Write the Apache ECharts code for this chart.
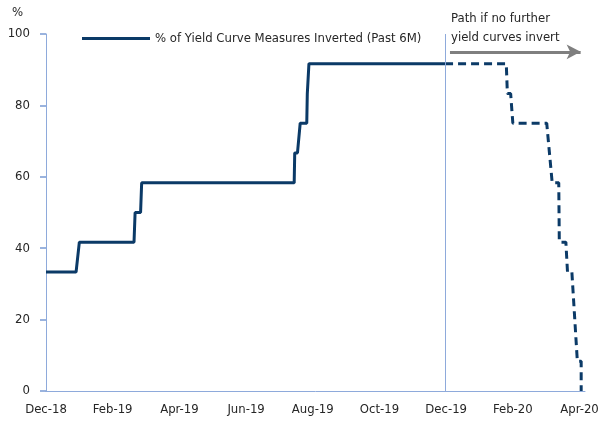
<!DOCTYPE html>
<html>
<head>
<meta charset="utf-8">
<script src="https://cdn.jsdelivr.net/npm/echarts@6/dist/echarts.min.js"></script>
<style>
  html, body { margin: 0; padding: 0; background: #fff; }
  #chart { width: 599px; height: 421px; }
</style>
</head>
<body>
<div id="chart"></div>
<script>
// x values are days since 1 Dec 2018
const xLabels = ["Dec-18", "Feb-19", "Apr-19", "Jun-19", "Aug-19", "Oct-19", "Dec-19", "Feb-20", "Apr-20"];
const yTicks = [0, 20, 40, 60, 80, 100];

const actualDays = [0, 27.5, 30.5, 80.5, 81.5, 86.5, 87.5, 227, 227.5, 230, 232.5, 238.5, 239, 240.5, 365];
const actualValues = [33.3, 33.3, 41.7, 41.7, 50, 50, 58.3, 58.3, 66.7, 66.7, 75, 75, 83.3, 91.7, 91.7];

const pathDays = [365, 421, 422, 425, 427, 458, 463, 469, 469.5, 475.5, 477, 481, 486, 489.5, 489.5];
const pathValues = [91.7, 91.7, 83.3, 83.3, 75, 75, 58.3, 58.3, 41.7, 41.7, 33.3, 33.3, 8.3, 8.3, 0];

const dec19 = 365;
const arrowFrom = 369.5, arrowTo = 489, arrowLevel = 95;

const font = '"DejaVu Sans Condensed", sans-serif';
const navy = "#0b3a67";
const axisBlue = "#8eaadb";
const textColor = "#262626";
const step = 61;

const chart = echarts.init(document.getElementById("chart"));

const option = {
  animation: false,
  textStyle: { fontFamily: font },
  grid: { left: 46, right: 14, top: 34, bottom: 30, outerBoundsMode: "none" },
  legend: {
    left: 77,
    top: 27,
    icon: "rect",
    itemWidth: 68,
    itemHeight: 3,
    data: ["% of Yield Curve Measures Inverted (Past 6M)"],
    textStyle: { fontFamily: font, fontSize: 13, color: textColor },
  },
  xAxis: {
    type: "value",
    min: 0,
    max: 493,
    interval: step,
    axisLine: { onZero: false, lineStyle: { color: axisBlue, width: 1 } },
    axisTick: { show: false },
    splitLine: { show: false },
    axisLabel: {
      color: textColor,
      fontFamily: font,
      fontSize: 13,
      margin: 12,
      showMaxLabel: false,
      formatter: (v) => (v % step === 0 ? xLabels[v / step] || "" : ""),
    },
  },
  yAxis: {
    type: "value",
    min: yTicks[0],
    max: yTicks[yTicks.length - 1],
    interval: 20,
    axisLine: { show: true, onZero: false, lineStyle: { color: axisBlue, width: 1 } },
    axisTick: { show: true, inside: false, length: 6, lineStyle: { color: "#7a9bd3", width: 1.5 } },
    splitLine: { show: false },
    axisLabel: { color: textColor, fontFamily: font, fontSize: 13, margin: 16 },
  },
  graphic: [
    { type: "text", left: 12, top: 6, style: { text: "%", font: "13px " + font, fill: textColor } },
    {
      type: "text",
      left: 451,
      top: 9,
      style: {
        text: "Path if no further\nyield curves invert",
        font: "13px " + font,
        lineHeight: 19,
        fill: textColor,
      },
    },
  ],
  series: [
    {
      name: "% of Yield Curve Measures Inverted (Past 6M)",
      type: "line",
      showSymbol: false,
      data: actualDays.map((d, i) => [d, actualValues[i]]),
      lineStyle: { color: navy, width: 3 },
      itemStyle: { color: navy },
      markLine: {
        silent: true,
        symbol: "none",
        label: { show: false },
        lineStyle: { color: axisBlue, width: 1, type: "solid" },
        data: [{ xAxis: dec19 }],
      },
    },
    {
      name: "path",
      type: "line",
      showSymbol: false,
      data: pathDays.map((d, i) => [d, pathValues[i]]),
      lineStyle: { color: navy, width: 3, type: [8, 5] },
      itemStyle: { color: navy },
      markLine: {
        silent: true,
        symbol: ["none", "arrow"],
        symbolSize: [11, 14],
        label: { show: false },
        lineStyle: { color: "#7f7f7f", width: 3, type: "solid" },
        data: [[{ coord: [arrowFrom, arrowLevel] }, { coord: [arrowTo, arrowLevel] }]],
      },
    },
  ],
};

chart.setOption(option);
</script>
</body>
</html>
